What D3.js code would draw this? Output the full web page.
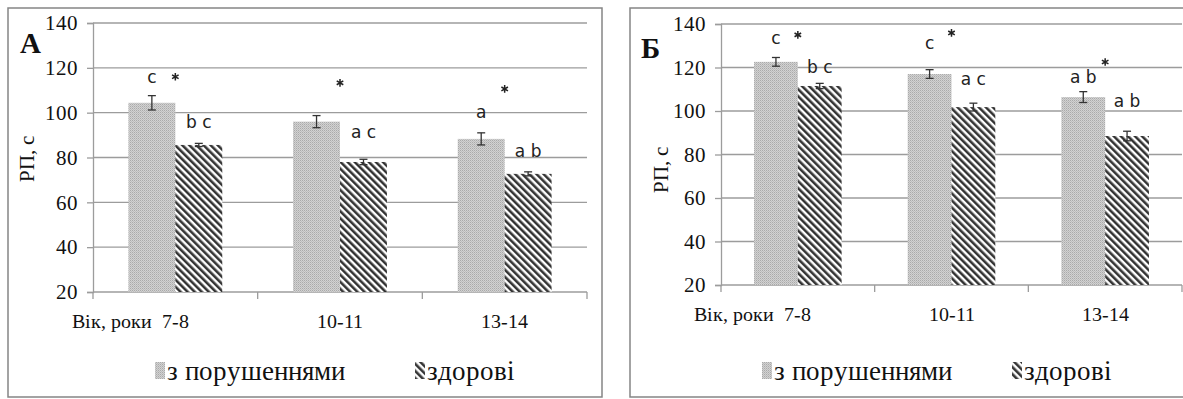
<!DOCTYPE html>
<html>
  <head>
    <meta charset="UTF-8" />
    <title>RP chart</title>
    <style>
      @font-face {
        font-family: 'ChartSerif';
        src: local('Liberation Serif'), local('LiberationSerif'), local('LiberationSerif-Regular');
        font-weight: normal;
      }
      @font-face {
        font-family: 'ChartSerif';
        src: local('Liberation Serif Bold'), local('LiberationSerif-Bold');
        font-weight: bold;
      }
      body { margin: 0; background: #fff; }
      svg text { font-family: 'ChartSerif', 'Liberation Serif', serif; }
      svg text.mark { font-family: 'DejaVu Sans', sans-serif; }
    </style>
  </head>
  <body>
    <div id="wrapper">
      <svg width="1183" height="399"></svg>
    </div>
    <script src="https://cdn.jsdelivr.net/npm/d3@7"></script>
    <script>
      // data
      const categories = ['7-8', '10-11', '13-14'];
      const seriesNames = ['з порушеннями', 'здорові'];
      const yTicks = [20, 40, 60, 80, 100, 120, 140];

      // panel A
      const aImpaired = [104.4, 96.0, 88.3];
      const aImpairedErr = [3.2, 2.7, 2.7];
      const aHealthy = [85.6, 78.0, 72.7];
      const aHealthyErr = [0.7, 1.2, 0.9];
      const aImpairedMarks = ['c', '', 'a'];
      const aImpairedMarkAt = [116, null, 100.4];
      const aHealthyMarks = ['b c', 'a c', 'a b'];
      const aHealthyMarkAt = [95.9, 91.4, 82.9];
      const aStarAt = [116, 113.3, 110.6];

      // panel Б
      const bImpaired = [122.6, 117.0, 106.4];
      const bImpairedErr = [2.0, 2.0, 2.5];
      const bHealthy = [111.5, 101.8, 88.5];
      const bHealthyErr = [1.2, 1.8, 2.2];
      const bImpairedMarks = ['c', 'c', 'a b'];
      const bImpairedMarkAt = [133.6, 131.3, 115.6];
      const bHealthyMarks = ['b c', 'a c', 'a b'];
      const bHealthyMarkAt = [120.2, 114.7, 104.6];
      const bStarAt = [135, 135.9, 122.5];

      const svg = d3.select('svg');
      const defs = svg.append('defs');

      // fine grey stipple
      const dots = defs.append('pattern').attr('id', 'dots')
        .attr('patternUnits', 'userSpaceOnUse').attr('width', 2).attr('height', 2);
      dots.append('rect').attr('width', 2).attr('height', 2).attr('fill', '#d2d2d2');
      dots.append('rect').attr('width', 1).attr('height', 1).attr('fill', '#aaaaaa');
      dots.append('rect').attr('x', 1).attr('y', 1).attr('width', 1).attr('height', 1).attr('fill', '#bdbdbd');

      // diagonal hatching
      const hatch = defs.append('pattern').attr('id', 'hatch')
        .attr('patternUnits', 'userSpaceOnUse').attr('width', 5).attr('height', 5)
        .attr('patternTransform', 'rotate(-45)');
      hatch.append('rect').attr('width', 5).attr('height', 5).attr('fill', '#fff');
      hatch.append('line').attr('x1', 1.3).attr('x2', 1.3).attr('y1', 0).attr('y2', 5)
        .attr('stroke', '#2e2e2e').attr('stroke-width', 2.5);

      const fills = ['url(#dots)', 'url(#hatch)'];
      const gridColor = '#9c9c9c';

      function drawPanel(p) {
        const g = svg.append('g');

        g.append('rect')
          .attr('x', p.frame[0]).attr('y', p.frame[1])
          .attr('width', p.frame[2] - p.frame[0]).attr('height', p.frame[3] - p.frame[1])
          .attr('fill', '#fff').attr('stroke', '#858585').attr('stroke-width', 1.5);

        const y = d3.scaleLinear().domain([20, 140]).range([p.bottom, p.top]);
        const x0 = d3.scaleBand().domain(categories).range([p.left, p.right]);
        const bw = x0.bandwidth();
        const x1 = d3.scaleBand().domain(seriesNames).range([bw * 0.215, bw * 0.785]);

        // grid
        g.append('g').selectAll('line').data(yTicks.slice(1)).join('line')
          .attr('x1', p.left).attr('x2', p.right)
          .attr('y1', d => y(d)).attr('y2', d => y(d))
          .attr('stroke', gridColor).attr('stroke-width', 1.3);

        // y axis
        const ya = g.append('g').attr('transform', `translate(${p.left},0)`)
          .call(d3.axisLeft(y).tickValues(yTicks).tickSize(6).tickPadding(9));
        ya.attr('font-family', null).attr('font-size', 21);
        ya.select('.domain').attr('stroke', gridColor).attr('stroke-width', 1.3);
        ya.selectAll('.tick line').attr('stroke', gridColor).attr('stroke-width', 1.3);
        ya.selectAll('.tick text').attr('fill', '#111');

        // x axis line + ticks at band edges
        g.append('line').attr('x1', p.left).attr('x2', p.right)
          .attr('y1', y(20)).attr('y2', y(20))
          .attr('stroke', gridColor).attr('stroke-width', 1.3);
        const edges = categories.map(c => x0(c)).concat([p.right]);
        g.append('g').selectAll('line').data(edges).join('line')
          .attr('x1', d => d).attr('x2', d => d)
          .attr('y1', y(20)).attr('y2', y(20) + 7)
          .attr('stroke', gridColor).attr('stroke-width', 1.3);

        g.append('g').selectAll('text').data(categories).join('text')
          .attr('x', d => x0(d) + bw / 2).attr('y', y(20) + 36)
          .attr('text-anchor', 'middle')
          .attr('font-size', 20).attr('fill', '#111')
          .text(d => d);
        // "Вік, роки" sits just left of the first category label
        g.append('text')
          .attr('x', x0(categories[0]) + bw / 2 - p.ageGap)
          .attr('y', y(20) + 36)
          .attr('text-anchor', 'end')
          .attr('font-size', 20).attr('fill', '#111')
          .text('Вік, роки');

        // bars
        const rows = [];
        categories.forEach((c, i) => {
          p.series.forEach((s, k) => {
            rows.push({ c, k, v: s.values[i], e: s.err[i], mark: s.marks[i], markAt: s.markAt[i] });
          });
        });
        const bx = d => x0(d.c) + x1(seriesNames[d.k]);
        g.append('g').selectAll('rect').data(rows).join('rect')
          .attr('x', bx).attr('y', d => y(d.v))
          .attr('width', x1.bandwidth()).attr('height', d => y(20) - y(d.v))
          .attr('fill', d => fills[d.k]);

        // error bars
        const eb = g.append('g').attr('stroke', '#333').attr('stroke-width', 1.3)
          .selectAll('g').data(rows).join('g')
          .attr('transform', d => `translate(${bx(d) + x1.bandwidth() / 2},0)`);
        eb.append('line').attr('y1', d => y(d.v - d.e)).attr('y2', d => y(d.v + d.e));
        eb.append('line').attr('x1', -4).attr('x2', 4)
          .attr('y1', d => y(d.v + d.e)).attr('y2', d => y(d.v + d.e));
        eb.append('line').attr('x1', -4).attr('x2', 4)
          .attr('y1', d => y(d.v - d.e)).attr('y2', d => y(d.v - d.e));

        // letter marks
        g.append('g').selectAll('text').data(rows.filter(d => d.mark)).join('text')
          .attr('class', 'mark')
          .attr('font-size', 17).attr('fill', '#222')
          .attr('x', d => bx(d) + x1.bandwidth() / 2)
          .attr('y', d => y(d.markAt))
          .attr('dy', '0.35em').attr('text-anchor', 'middle')
          .text(d => d.mark);

        // significance stars
        g.append('g').selectAll('path').data(p.stars).join('path')
          .attr('transform', (d, i) => `translate(${x0(categories[i]) + bw / 2},${y(d)})`)
          .attr('d', d3.symbol(d3.symbolAsterisk, 40))
          .attr('stroke', '#222').attr('stroke-width', 1.5).attr('fill', 'none');

        // panel letter
        g.append('text').attr('x', p.tag[0]).attr('y', p.tag[1])
          .attr('font-size', 29)
          .attr('font-weight', 'bold').attr('fill', '#111')
          .attr('text-anchor', 'middle').attr('dy', '0.35em').text(p.name);

        // y title
        g.append('text')
          .attr('transform', `translate(${p.ytitle[0]},${p.ytitle[1]}) rotate(-90)`)
          .attr('text-anchor', 'middle').attr('dy', '0.35em')
          .attr('font-size', 21).attr('fill', '#111')
          .text('РП, с');

        // legend
        const lg = g.append('g');
        seriesNames.forEach((s, k) => {
          lg.append('rect').attr('x', p.legend[k]).attr('y', 362)
            .attr('width', 10).attr('height', 17).attr('fill', fills[k]);
          lg.append('text').attr('x', p.legend[k] + 12).attr('y', 380)
            .attr('font-size', 27).attr('fill', '#111')
            .text(s);
        });
      }

      drawPanel({
        name: 'A', tag: [30, 43], ytitle: [27, 159],
        frame: [8, 8, 602, 397],
        left: 93, right: 587, top: 23, bottom: 292, ageGap: 23,
        legend: [155, 415],
        series: [
          { values: aImpaired, err: aImpairedErr, marks: aImpairedMarks, markAt: aImpairedMarkAt },
          { values: aHealthy, err: aHealthyErr, marks: aHealthyMarks, markAt: aHealthyMarkAt }
        ],
        stars: aStarAt
      });

      drawPanel({
        name: 'Б', tag: [650, 48], ytitle: [661, 170],
        frame: [630, 8, 1192, 397],
        left: 721, right: 1182, top: 24, bottom: 285, ageGap: 24,
        legend: [762, 1012],
        series: [
          { values: bImpaired, err: bImpairedErr, marks: bImpairedMarks, markAt: bImpairedMarkAt },
          { values: bHealthy, err: bHealthyErr, marks: bHealthyMarks, markAt: bHealthyMarkAt }
        ],
        stars: bStarAt
      });
    </script>
  </body>
</html>
